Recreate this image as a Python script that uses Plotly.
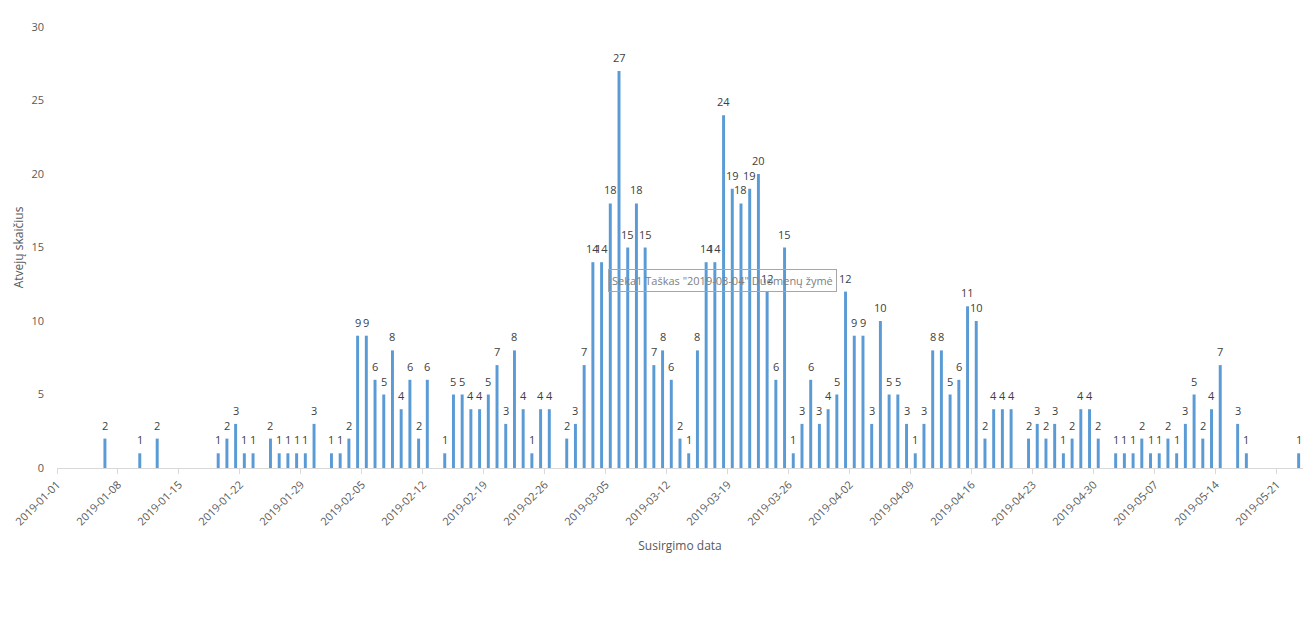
import pandas as pd
import plotly.graph_objects as go

# days with reported cases (days with no cases have no bar)
dates = [
    "2019-01-06", "2019-01-10", "2019-01-12", "2019-01-19", "2019-01-20", "2019-01-21",
    "2019-01-22", "2019-01-23", "2019-01-25", "2019-01-26", "2019-01-27", "2019-01-28",
    "2019-01-29", "2019-01-30", "2019-02-01", "2019-02-02", "2019-02-03", "2019-02-04",
    "2019-02-05", "2019-02-06", "2019-02-07", "2019-02-08", "2019-02-09", "2019-02-10",
    "2019-02-11", "2019-02-12", "2019-02-14", "2019-02-15", "2019-02-16", "2019-02-17",
    "2019-02-18", "2019-02-19", "2019-02-20", "2019-02-21", "2019-02-22", "2019-02-23",
    "2019-02-24", "2019-02-25", "2019-02-26", "2019-02-28", "2019-03-01", "2019-03-02",
    "2019-03-03", "2019-03-04", "2019-03-05", "2019-03-06", "2019-03-07", "2019-03-08",
    "2019-03-09", "2019-03-10", "2019-03-11", "2019-03-12", "2019-03-13", "2019-03-14",
    "2019-03-15", "2019-03-16", "2019-03-17", "2019-03-18", "2019-03-19", "2019-03-20",
    "2019-03-21", "2019-03-22", "2019-03-23", "2019-03-24", "2019-03-25", "2019-03-26",
    "2019-03-27", "2019-03-28", "2019-03-29", "2019-03-30", "2019-03-31", "2019-04-01",
    "2019-04-02", "2019-04-03", "2019-04-04", "2019-04-05", "2019-04-06", "2019-04-07",
    "2019-04-08", "2019-04-09", "2019-04-10", "2019-04-11", "2019-04-12", "2019-04-13",
    "2019-04-14", "2019-04-15", "2019-04-16", "2019-04-17", "2019-04-18", "2019-04-19",
    "2019-04-20", "2019-04-22", "2019-04-23", "2019-04-24", "2019-04-25", "2019-04-26",
    "2019-04-27", "2019-04-28", "2019-04-29", "2019-04-30", "2019-05-02", "2019-05-03",
    "2019-05-04", "2019-05-05", "2019-05-06", "2019-05-07", "2019-05-08", "2019-05-09",
    "2019-05-10", "2019-05-11", "2019-05-12", "2019-05-13", "2019-05-14", "2019-05-16",
    "2019-05-17", "2019-05-23",
]
cases = [
    2, 1, 2, 1, 2, 3,
    1, 1, 2, 1, 1, 1,
    1, 3, 1, 1, 2, 9,
    9, 6, 5, 8, 4, 6,
    2, 6, 1, 5, 5, 4,
    4, 5, 7, 3, 8, 4,
    1, 4, 4, 2, 3, 7,
    14, 14, 18, 27, 15, 18,
    15, 7, 8, 6, 2, 1,
    8, 14, 14, 24, 19, 18,
    19, 20, 12, 6, 15, 1,
    3, 6, 3, 4, 5, 12,
    9, 9, 3, 10, 5, 5,
    3, 1, 3, 8, 8, 5,
    6, 11, 10, 2, 4, 4,
    4, 2, 3, 2, 3, 1,
    2, 4, 4, 2, 1, 1,
    1, 2, 1, 1, 2, 1,
    3, 5, 2, 4, 7, 3,
    1, 1,
]
tick_dates = [
    "2019-01-01", "2019-01-08", "2019-01-15", "2019-01-22", "2019-01-29", "2019-02-05",
    "2019-02-12", "2019-02-19", "2019-02-26", "2019-03-05", "2019-03-12", "2019-03-19",
    "2019-03-26", "2019-04-02", "2019-04-09", "2019-04-16", "2019-04-23", "2019-04-30",
    "2019-05-07", "2019-05-14", "2019-05-21",
]

font = "Open Sans"
grey = "#595959"
half_day = pd.Timedelta(hours=12)

fig = go.Figure()
fig.add_trace(go.Bar(
    x=dates, y=cases, name="Seka1",
    marker_color="#5B9BD5", marker_line_width=0,
))

# data labels a little above each bar (Excel style)
for d, v in zip(dates, cases):
    fig.add_annotation(
        x=d, y=v, text=str(v), showarrow=False, yanchor="bottom", yshift=4,
        font=dict(family=font, size=11, color="#404040"),
    )

# Excel hover tooltip that was captured in the screenshot
fig.add_annotation(
    xref="paper", yref="paper", x=0.534, y=0.426,
    text='Seka1 Taškas "2019-03-04" Duomenų žymė', showarrow=False,
    font=dict(family=font, size=11, color="#808080"),
    bordercolor="#a6a6a6", borderwidth=1, borderpad=3, bgcolor="rgba(255,255,255,0)",
)

# Excel category axis: ticks sit on the slot edges, bars in the middle
tick_pos = [str(pd.Timestamp(t) - half_day) for t in tick_dates]

# the page body adds an 8px offset, so the figure is a bit smaller than the window
fig.update_layout(
    width=1300, height=610,
    margin=dict(l=49, r=5, t=19, b=150),
    plot_bgcolor="white", paper_bgcolor="white",
    showlegend=False, bargap=0.66,
    font=dict(family=font, size=11, color=grey),
)
fig.update_xaxes(
    type="date", automargin=False,
    range=[str(pd.Timestamp("2019-01-01") - half_day), str(pd.Timestamp("2019-05-24") - half_day)],
    tickvals=tick_pos, ticktext=tick_dates, tickangle=-45,
    ticks="outside", ticklen=5, tickcolor="#d9d9d9",
    showline=True, linecolor="#d9d9d9", linewidth=1, showgrid=False, zeroline=False,
    tickfont=dict(size=11, color=grey),
    title=dict(text="Susirgimo data", font=dict(size=12, color=grey), standoff=14),
)
fig.update_yaxes(
    range=[0, 30], tickvals=[0, 5, 10, 15, 20, 25, 30], automargin=False,
    showgrid=False, zeroline=False, showline=False, ticks="", ticklabelstandoff=12,
    tickfont=dict(size=11, color=grey),
    title=dict(text="Atvejų skaičius", font=dict(size=12, color=grey), standoff=5),
)

fig.write_html("out.html")
